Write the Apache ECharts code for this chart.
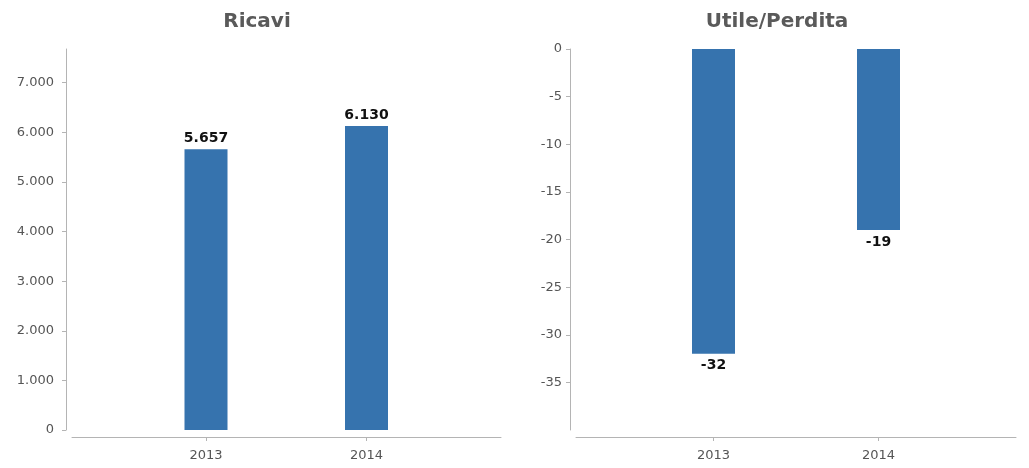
<!DOCTYPE html>
<html>
<head>
<meta charset="utf-8">
<script src="https://cdn.jsdelivr.net/npm/echarts@6/dist/echarts.min.js"></script>
<style>
  html, body { margin: 0; padding: 0; background: #fff; }
  #chart { width: 1029px; height: 468px; }
</style>
</head>
<body>
<div id="chart"></div>
<script>
// dati
const anni = ["2013", "2014"];
const ricavi = [5657, 6130];
const utilePerdita = [-32, -19];
const tickRicavi = [0, 1000, 2000, 3000, 4000, 5000, 6000, 7000];
const tickUtile = [0, -5, -10, -15, -20, -25, -30, -35];

const chart = echarts.init(document.getElementById("chart"));

// separatore migliaia con il punto
const fmt = (v) => String(v).replace(/\B(?=(\d{3})+(?!\d))/g, ".");

const fontFamily = "DejaVu Sans";
const lineColor = "#b4b4b4";
const labelColor = "#555";
const barColor = "#3673ae";

const titleStyle = { fontFamily, fontSize: 20, fontWeight: "bold", color: "#5a5a5a" };

// asse "cornice" con solo la linea
const lineOnlyX = (gridIndex) => ({
  type: "value",
  gridIndex,
  min: 0,
  max: 1,
  offset: 7,
  axisLine: { show: true, onZero: false, lineStyle: { color: lineColor } },
  axisTick: { show: false },
  axisLabel: { show: false },
  splitLine: { show: false },
});

const catX = (gridIndex) => ({
  type: "category",
  gridIndex,
  data: anni,
  offset: 7,
  axisLine: { show: false, onZero: false },
  axisTick: { show: true, alignWithLabel: true, length: 4, lineStyle: { color: lineColor } },
  axisLabel: { color: labelColor, fontFamily, fontSize: 13, margin: 12 },
  splitLine: { show: false },
});

const hiddenY = (gridIndex, min, max) => ({
  type: "value",
  gridIndex,
  min,
  max,
  show: false,
  axisLine: { onZero: false },
  splitLine: { show: false },
});

const option = {
  animation: false,
  title: [
    { text: "Ricavi", left: 252, top: 7, textAlign: "center", textStyle: titleStyle },
    { text: "Utile/Perdita", left: 772, top: 7, textAlign: "center", textStyle: titleStyle },
  ],
  grid: [
    { left: 72, width: 429, top: 49, bottom: 38 },
    { left: 125.75, width: 321, top: 49, bottom: 38 },
    { left: 576, width: 440, top: 49, bottom: 38 },
    { left: 631, width: 330, top: 49, bottom: 38 },
  ],
  xAxis: [lineOnlyX(0), catX(1), lineOnlyX(2), catX(3)],
  yAxis: [
    {
      type: "value",
      gridIndex: 0,
      min: 0,
      max: 7680,
      interval: 1000,
      offset: 6,
      axisLine: { show: true, onZero: false, lineStyle: { color: lineColor } },
      axisTick: { show: true, length: 4, customValues: tickRicavi, lineStyle: { color: lineColor } },
      axisLabel: { color: labelColor, fontFamily, fontSize: 13, margin: 12, customValues: tickRicavi, formatter: fmt },
      splitLine: { show: false },
    },
    hiddenY(1, 0, 7680),
    {
      type: "value",
      gridIndex: 2,
      min: -40,
      max: 0,
      interval: 5,
      offset: 6,
      axisLine: { show: true, onZero: false, lineStyle: { color: lineColor } },
      axisTick: { show: true, length: 4, customValues: tickUtile, lineStyle: { color: lineColor } },
      axisLabel: { color: labelColor, fontFamily, fontSize: 13, margin: 8, customValues: tickUtile, formatter: fmt },
      splitLine: { show: false },
    },
    hiddenY(3, -40, 0),
  ],
  series: [
    {
      name: "Ricavi",
      type: "bar",
      xAxisIndex: 1,
      yAxisIndex: 1,
      data: ricavi,
      barWidth: 43,
      itemStyle: { color: barColor },
      label: {
        show: true,
        position: "top",
        distance: 4,
        fontFamily,
        fontSize: 14,
        fontWeight: "bold",
        color: "#111",
        formatter: (p) => fmt(p.value),
      },
    },
    {
      name: "Utile/Perdita",
      type: "bar",
      xAxisIndex: 3,
      yAxisIndex: 3,
      data: utilePerdita,
      barWidth: 43,
      itemStyle: { color: barColor },
      label: {
        show: true,
        position: "bottom",
        distance: 5,
        fontFamily,
        fontSize: 14,
        fontWeight: "bold",
        color: "#111",
        formatter: (p) => fmt(p.value),
      },
    },
  ],
};

chart.setOption(option);
window.addEventListener("resize", chart.resize);
</script>
</body>
</html>
